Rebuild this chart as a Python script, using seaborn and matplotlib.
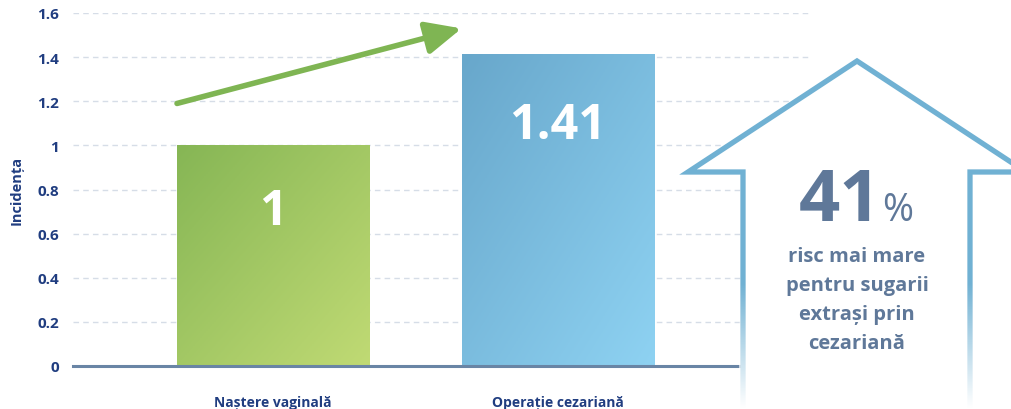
import numpy as np
import pandas as pd
import matplotlib
matplotlib.use('Agg')
import matplotlib.pyplot as plt
import seaborn as sns
from matplotlib.colors import LinearSegmentedColormap
from matplotlib.patches import Polygon

# chart data
categories = ['Naștere vaginală', 'Operație cezariană']
incidence = [1.0, 1.41]
bar_labels = ['1', '1.41']
y_ticks = [0, 0.2, 0.4, 0.6, 0.8, 1.0, 1.2, 1.4, 1.6]
y_tick_labels = ['0', '0.2', '0.4', '0.6', '0.8', '1', '1.2', '1.4', '1.6']
trend_from = 1.19   # trend arrow start / end height
trend_to = 1.53
risk_pct = '41'
risk_lines = ['risc mai mare', 'pentru sugarii', 'extrași prin', 'cezariană']

navy = '#203d80'
slate = '#5f7899'
bar_grads = [('#86b655', '#c0da74'), ('#68a7cb', '#8ed2f2')]

sns.set_theme(style='white')
plt.rcParams['font.family'] = ['Open Sans', 'DejaVu Sans']
plt.rcParams['font.weight'] = 'bold'

W, H = 1012, 410
fig = plt.figure(figsize=(W / 100, H / 100), dpi=100)
ax = fig.add_axes([73 / W, (H - 367) / H, (812 - 73) / W, (367 - 14) / H])

df = pd.DataFrame({'cat': categories, 'val': incidence})
sns.barplot(data=df, x='cat', y='val', ax=ax, width=0.675, color='w', zorder=2)

# gradient fill for each bar
n = 100
gx, gy = np.meshgrid(np.linspace(0, 1, n), np.linspace(0, 1, n))
grad = (gx + gy) / 2
for patch, (c0, c1), lab in zip(ax.patches, bar_grads, bar_labels):
    x, w, h = patch.get_x(), patch.get_width(), patch.get_height()
    cmap = LinearSegmentedColormap.from_list('g', [c0, c1])
    ax.imshow(grad, extent=[x, x + w, 0, h], cmap=cmap, aspect='auto', zorder=2.5)
    patch.set_visible(False)
    ax.text(x + w / 2, h * 0.7 if h < 1.2 else h - 0.32, lab, ha='center', va='center',
            color='white', fontsize=35, fontweight='bold', zorder=4)

# trend arrow between bar left edges
x0 = ax.patches[0].get_x()
x1 = ax.patches[1].get_x()
ax.annotate('', xy=(x1, trend_to), xytext=(x0, trend_from),
            arrowprops=dict(arrowstyle='-|>,head_length=1.2,head_width=0.55',
                            color='#7fb553', lw=4, mutation_scale=18, shrinkA=0, shrinkB=0),
            zorder=5)

ax.set_xlim(-0.703, 1.894)
ax.set_ylim(0, 1.6)
ax.set_yticks(y_ticks)
ax.set_yticklabels(y_tick_labels)
ax.yaxis.grid(True, linestyle=(0, (4, 3)), color='#d6dde7', lw=1)
ax.set_axisbelow(True)
for s in ['top', 'right', 'left']:
    ax.spines[s].set_visible(False)
ax.spines['bottom'].set_color('#6985a5')
ax.spines['bottom'].set_linewidth(2.2)
ax.tick_params(axis='y', length=0, pad=10, labelsize=11, labelcolor=navy)
ax.tick_params(axis='x', length=0, pad=21, labelsize=10, labelcolor=navy)
for t in ax.get_xticklabels() + ax.get_yticklabels():
    t.set_fontweight('bold')
ax.set_xlabel('')
ax.set_ylabel('Incidența', color=navy, fontsize=10.5, fontweight='bold', labelpad=10)

# house-shaped callout, in pixel coordinates
hax = fig.add_axes([0, 0, 1, 1], zorder=10)
hax.set_xlim(0, W)
hax.set_ylim(H, 0)
hax.axis('off')
outline = '#70b1d3'
lx, rx, apex, eave_l, eave_r, top = 743, 970, 857, 688, 1026, 173
hax.add_patch(Polygon([(eave_l, top), (apex, 62), (eave_r, top), (rx, top), (rx, H + 5),
                       (lx, H + 5), (lx, top)], closed=True, fc='white', ec='none'))
hax.plot([lx, lx, eave_l, apex, eave_r, rx, rx], [H + 5, top, top, 62, top, top, H + 5],
         color=outline, lw=3.8, solid_joinstyle='miter')
# fade the walls out towards the bottom
fade = np.ones((100, 1, 4))
fade[:, 0, 3] = np.clip(np.linspace(-0.35, 1.05, 100), 0, 1)
for xw in (lx, rx):
    hax.imshow(fade, extent=[xw - 4, xw + 4, H + 5, 240], aspect='auto', zorder=3)
hax.set_xlim(0, W)
hax.set_ylim(H, 0)

hax.text(apex + 24, 221, risk_pct, ha='right', va='baseline', color=slate,
         fontsize=52, fontweight='bold', zorder=5)
hax.text(apex + 25, 221, '%', ha='left', va='baseline', color=slate,
         fontsize=27, fontweight='normal', zorder=5)
for i, line in enumerate(risk_lines):
    hax.text(apex, 257 + 29 * i, line, ha='center', va='center', color=slate,
             fontsize=14.5, fontweight='bold', zorder=5)

fig.savefig('out.png', dpi=100)
